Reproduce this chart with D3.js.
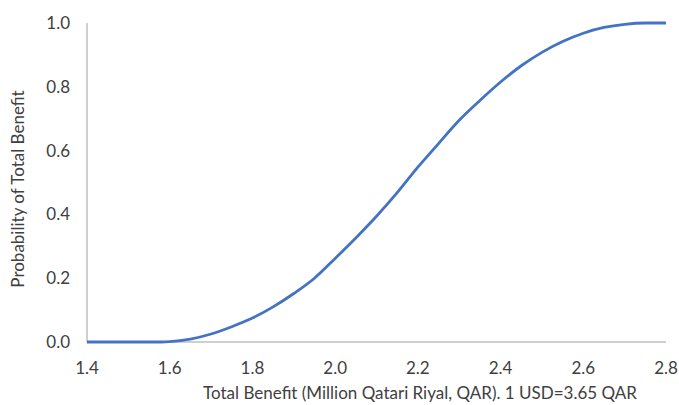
<!DOCTYPE html>
<html><head><meta charset="utf-8">
<script src="https://cdn.jsdelivr.net/npm/d3@7"></script>
<style>body{margin:0;background:#fff}svg{display:block}text{font-family:Lato,"Open Sans",sans-serif;fill:#404040}</style>
</head><body><svg id="c" width="679" height="405"></svg>
<script>
const benefit = [1.40,1.50,1.58,1.60,1.65,1.70,1.75,1.80,1.85,1.90,1.95,2.00,2.05,2.10,2.15,2.20,2.25,2.30,2.35,2.40,2.45,2.50,2.55,2.60,2.65,2.70,2.75,2.80];
const probability = [0,0,0,0.001,0.009,0.025,0.048,0.075,0.110,0.152,0.200,0.262,0.326,0.394,0.468,0.548,0.622,0.695,0.757,0.815,0.866,0.908,0.942,0.968,0.986,0.996,1.0,1.0];
const xTicks = [1.4,1.6,1.8,2.0,2.2,2.4,2.6,2.8];
const yTicks = [0,0.2,0.4,0.6,0.8,1.0];
const xTitle = "Total Benefit (Million Qatari Riyal, QAR). 1 USD=3.65 QAR";
const yTitle = "Probability of Total Benefit";

const svg = d3.select("#c");
const x = d3.scaleLinear().domain([1.4,2.8]).range([87,666]);
const y = d3.scaleLinear().domain([0,1]).range([342,23]);

svg.append("line").attr("x1",x(1.4)).attr("x2",x(1.4)).attr("y1",y(1)).attr("y2",y(0)).attr("stroke","#bfbfbf").attr("stroke-width",1.5);
svg.append("line").attr("x1",x(1.4)).attr("x2",x(2.8)).attr("y1",y(0)).attr("y2",y(0)).attr("stroke","#bfbfbf").attr("stroke-width",1.5);

svg.selectAll(".yt").data(yTicks).enter().append("text")
  .attr("x",70).attr("y",d=>y(d)+6).attr("text-anchor","end").attr("font-size",17).text(d=>d.toFixed(1));
svg.selectAll(".xt").data(xTicks).enter().append("text")
  .attr("x",d=>x(d)).attr("y",374).attr("text-anchor","middle").attr("font-size",17).text(d=>d.toFixed(1));

const data = benefit.map((b,i)=>({b,p:probability[i]}));
svg.append("path").datum(data)
  .attr("d", d3.line().x(d=>x(d.b)).y(d=>y(d.p)).curve(d3.curveMonotoneX))
  .attr("fill","none").attr("stroke","#4472C4").attr("stroke-width",2.8);

svg.append("text").attr("x",420).attr("y",399).attr("text-anchor","middle").attr("font-size",17).text(xTitle);
svg.append("text").attr("transform","translate(24,189) rotate(-90)").attr("text-anchor","middle").attr("font-size",17).text(yTitle);
</script></body></html>
